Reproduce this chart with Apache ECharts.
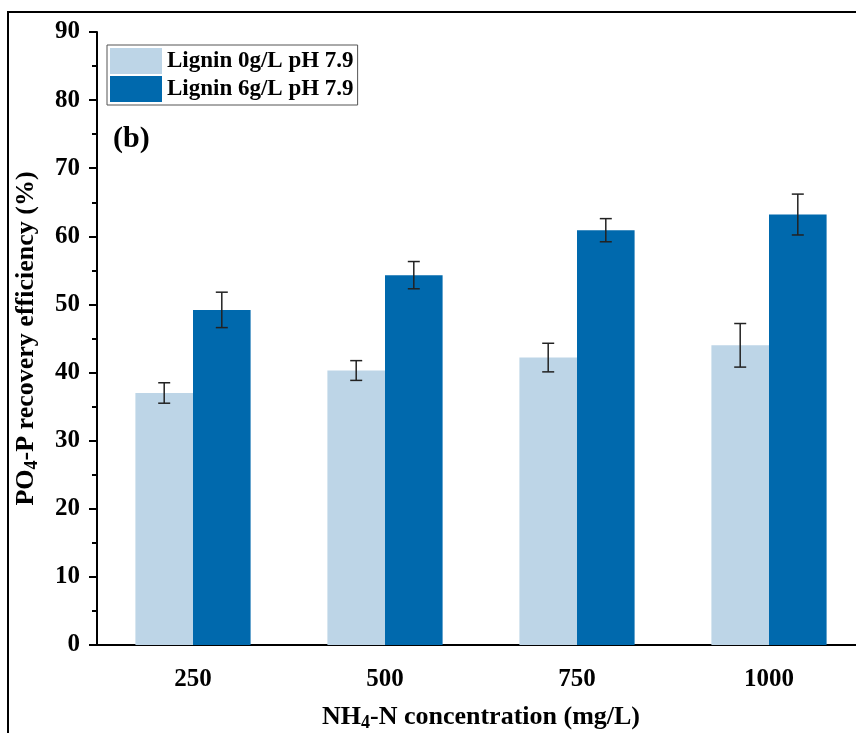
<!DOCTYPE html>
<html>
<head>
    <meta charset="utf-8">
    <script src="https://cdn.jsdelivr.net/npm/echarts@6/dist/echarts.min.js"></script>
</head>
<body style="margin:0;background:#fff;">
    <div id="main" style="width: 856px;height:733px;"></div>
    <script type="text/javascript">
        var myChart = echarts.init(document.getElementById('main'));

        // data
        var categories = ['250', '500', '750', '1000'];
        var seriesNames = ['Lignin 0g/L pH 7.9', 'Lignin 6g/L pH 7.9'];
        var lignin0 = [37.0, 40.3, 42.2, 44.0];
        var lignin0Err = [1.5, 1.45, 2.1, 3.2];
        var lignin6 = [49.2, 54.3, 60.9, 63.2];
        var lignin6Err = [2.6, 2.0, 1.7, 3.0];
        var colors = ['#BDD5E7', '#0069AD'];

        var font = 'Liberation Serif';

        function errData(vals, errs) {
            return vals.map(function (v, i) {
                return [i, v - errs[i], v + errs[i]];
            });
        }

        // offset of each bar inside the category band (barWidth 30%, barGap 0)
        function errSeries(vals, errs, offset) {
            return {
                type: 'custom',
                xAxisIndex: 0,
                yAxisIndex: 0,
                z: 10,
                silent: true,
                data: errData(vals, errs),
                renderItem: function (params, api) {
                    var band = api.size([1, 0])[0];
                    var lo = api.coord([api.value(0), api.value(1)]);
                    var hi = api.coord([api.value(0), api.value(2)]);
                    var x = lo[0] + offset * band;
                    var cap = 6;
                    var st = { stroke: '#222', lineWidth: 1.5 };
                    return {
                        type: 'group',
                        children: [
                            { type: 'line', shape: { x1: x, y1: lo[1], x2: x, y2: hi[1] }, style: st },
                            { type: 'line', shape: { x1: x - cap, y1: lo[1], x2: x + cap, y2: lo[1] }, style: st },
                            { type: 'line', shape: { x1: x - cap, y1: hi[1], x2: x + cap, y2: hi[1] }, style: st }
                        ]
                    };
                }
            };
        }

        var nameRich = {
            a: { fontFamily: font, fontWeight: 'bold', fontSize: 26, color: '#000' },
            s: { fontFamily: font, fontWeight: 'bold', fontSize: 18, color: '#000', padding: [12, 0, 0, 0] }
        };

        var option = {
            animation: false,
            backgroundColor: '#ffffff',
            // the figure is cut at the right edge, so the plot runs past the canvas
            grid: {
                left: 97,
                top: 32,
                right: -9,
                bottom: 88,
                outerBoundsMode: 'none',
                containLabel: false
            },
            legend: {
                orient: 'vertical',
                left: 107,
                top: 45,
                padding: [3, 4, 3, 3],
                icon: 'rect',
                itemWidth: 52,
                itemHeight: 26,
                itemGap: 2,
                borderColor: '#555',
                borderWidth: 1,
                borderRadius: 0,
                data: seriesNames,
                textStyle: {
                    fontFamily: font,
                    fontWeight: 'bold',
                    fontSize: 23,
                    color: '#000'
                }
            },
            xAxis: [
                {
                    type: 'category',
                    data: categories,
                    name: '{a|NH}{s|4}{a|-N concentration (mg/L)}',
                    nameLocation: 'middle',
                    nameGap: 57,
                    nameTextStyle: { rich: nameRich },
                    axisLine: { lineStyle: { color: '#000', width: 2 } },
                    axisTick: { alignWithLabel: true, length: 8, lineStyle: { color: '#000', width: 2 } },
                    axisLabel: {
                        margin: 22,
                        fontFamily: font,
                        fontWeight: 'bold',
                        fontSize: 25,
                        color: '#000'
                    }
                },
                {
                    type: 'category',
                    data: categories,
                    position: 'bottom',
                    axisLine: { show: false },
                    axisTick: { length: 5, lineStyle: { color: '#000', width: 2 } },
                    axisLabel: { show: false }
                }
            ],
            yAxis: {
                type: 'value',
                min: 0,
                max: 90,
                interval: 10,
                name: '{a|PO}{s|4}{a|-P recovery efficiency (%)}',
                nameLocation: 'middle',
                nameGap: 56,
                nameTextStyle: { rich: nameRich },
                axisLine: { show: true, lineStyle: { color: '#000', width: 2 } },
                axisTick: { show: true, length: 8, lineStyle: { color: '#000', width: 2 } },
                minorTick: { show: true, splitNumber: 2, length: 5, lineStyle: { color: '#000', width: 2 } },
                splitLine: { show: false },
                axisLabel: {
                    margin: 17,
                    fontFamily: font,
                    fontWeight: 'bold',
                    fontSize: 25,
                    color: '#000'
                }
            },
            graphic: [
                {
                    type: 'rect',
                    shape: { x: 8, y: 12, width: 900, height: 800 },
                    style: { fill: 'none', stroke: '#000', lineWidth: 2 }
                },
                {
                    type: 'text',
                    left: 113,
                    top: 124,
                    style: {
                        text: '(b)',
                        fontFamily: font,
                        fontWeight: 'bold',
                        fontSize: 30,
                        fill: '#000'
                    }
                }
            ],
            series: [
                {
                    name: seriesNames[0],
                    type: 'bar',
                    data: lignin0,
                    barWidth: '30%',
                    barGap: '0%',
                    itemStyle: { color: colors[0] }
                },
                {
                    name: seriesNames[1],
                    type: 'bar',
                    data: lignin6,
                    barWidth: '30%',
                    barGap: '0%',
                    itemStyle: { color: colors[1] }
                },
                errSeries(lignin0, lignin0Err, -0.15),
                errSeries(lignin6, lignin6Err, 0.15)
            ]
        };

        myChart.setOption(option);
    </script>
</body>
</html>
